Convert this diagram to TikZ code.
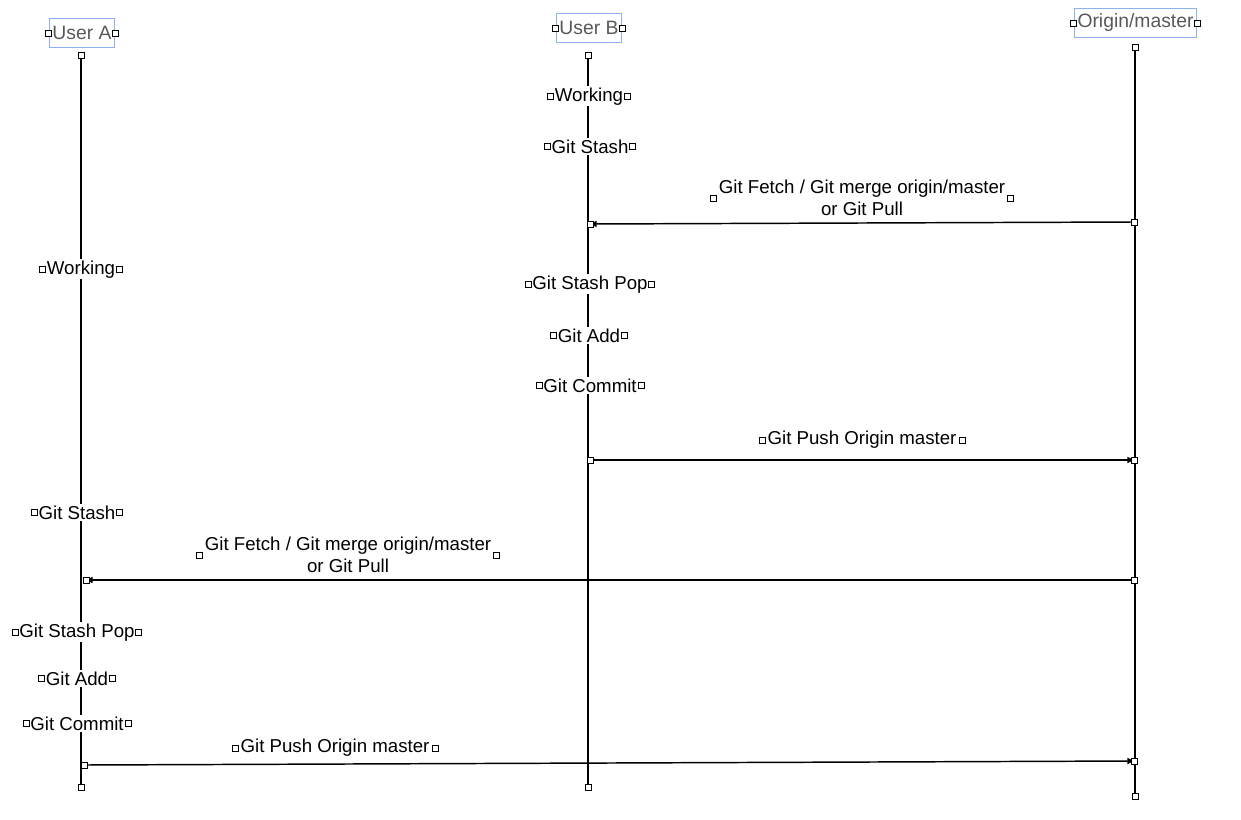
\documentclass[tikz,border=0pt]{standalone}
\usepackage{fontspec}
\setmainfont{Liberation Sans}
\usetikzlibrary{arrows.meta}
\definecolor{hdrblue}{HTML}{8FB0F0}
\definecolor{hdrtext}{HTML}{595959}
\begin{document}
\begin{tikzpicture}[x=0.75pt,y=-0.75pt,
  hdr/.style={draw=hdrblue,line width=0.8pt,text=hdrtext,font=\fontsize{14.5}{16.5}\selectfont,inner xsep=2.5pt,inner ysep=0pt,minimum height=21.75pt},
  handle/.style={draw=black,fill=white,line width=0.6pt,minimum size=4.5pt,inner sep=0pt,rectangle},
  act/.style={fill=white,font=\fontsize{14}{16.5}\selectfont,inner xsep=3pt,inner ysep=1pt,yshift=-1pt},
  msglbl/.style={font=\fontsize{14}{16.5}\selectfont,align=center,inner xsep=4pt,inner ysep=0pt},
  life/.style={line width=1.5pt},
  msg/.style={line width=1.1pt,-{Triangle[length=5pt,width=4.5pt]}}
]
\useasboundingbox (0,0) rectangle (1241,820);

% headers
\node[hdr] (hA) at (82,33) {User A};
\node[hdr] (hB) at (589,28) {User B};
\node[hdr] (hO) at (1135.5,23) {Origin/master};
\foreach \h in {hA,hB,hO}{
  \node[handle] at (\h.west) {};
  \node[handle] at (\h.east) {};
}

% lifeline ends
\coordinate (tA) at (81,55);
\coordinate (bA) at (81,787);
\coordinate (tB) at (588,55);
\coordinate (bB) at (588,787);
\coordinate (tO) at (1135,47);
\coordinate (bO) at (1135,796);
\draw[life] (tA) -- (bA);
\draw[life] (tB) -- (bB);
\draw[life] (tO) -- (bO);
\foreach \c in {tA,bA,tB,bB,tO,bO}{
  \node[handle] at (\c) {};
}

% actions on lifelines
\node[act] (wB) at (589,95) {Working};
\node[act] (sB) at (590,145) {Git Stash};
\node[act] (spB) at (590,283) {Git Stash Pop};
\node[act] (aB) at (589,334) {Git Add};
\node[act] (cB) at (590,384) {Git Commit};
\node[act] (wA) at (81,268) {Working};
\node[act] (sA) at (77,511) {Git Stash};
\node[act] (spA) at (77,631) {Git Stash Pop};
\node[act] (aA) at (77,677) {Git Add};
\node[act] (cA) at (77,722) {Git Commit};
\foreach \n in {wB,sB,spB,aB,cB,wA,sA,spA,aA,cA}{
  \node[handle] at (\n.west) {};
  \node[handle] at (\n.east) {};
}

% message endpoints
\coordinate (m1s) at (1134,222);
\coordinate (m1e) at (590,224);
\coordinate (m2s) at (590,460);
\coordinate (m2e) at (1134,460);
\coordinate (m3s) at (1134,580);
\coordinate (m3e) at (86,580);
\coordinate (m4s) at (84,765);
\coordinate (m4e) at (1134,761);

\draw[msg] (m1s) -- (m1e);
\draw[msg] (m2s) -- (m2e);
\draw[msg] (m3s) -- (m3e);
\draw[msg] (m4s) -- (m4e);
\foreach \c in {m1s,m1e,m2s,m2e,m3s,m3e,m4s,m4e}{
  \node[handle] at (\c) {};
}

% message labels
\node[msglbl] (l1) at (862,198) {Git Fetch / Git merge origin/master\\or Git Pull};
\node[msglbl] (l2) at (862,440) {Git Push Origin master};
\node[msglbl] (l3) at (348,555) {Git Fetch / Git merge origin/master\\or Git Pull};
\node[msglbl] (l4) at (335,748) {Git Push Origin master};
\foreach \n in {l1,l2,l3,l4}{
  \node[handle] at (\n.west) {};
  \node[handle] at (\n.east) {};
}
\end{tikzpicture}
\end{document}
